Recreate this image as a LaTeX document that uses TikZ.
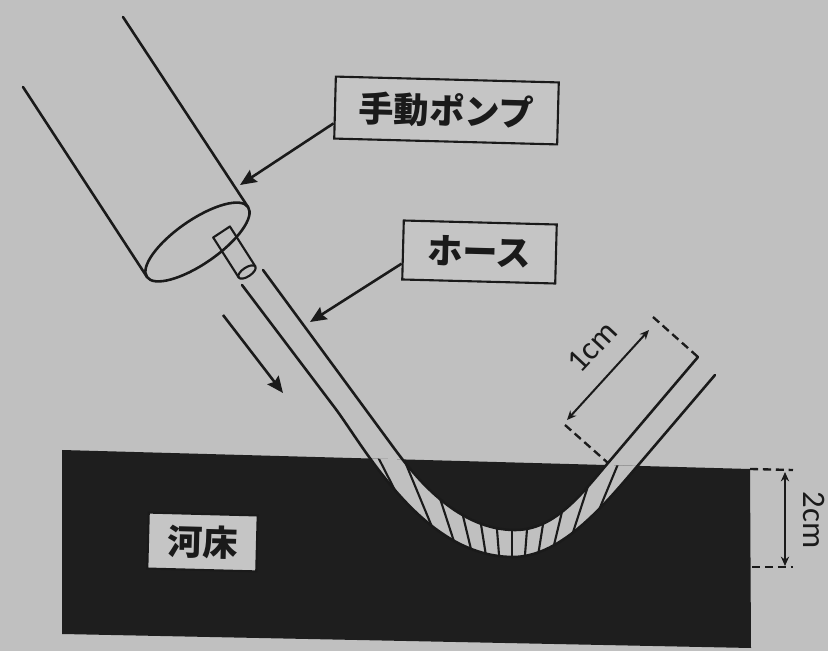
\documentclass[tikz,border=0pt]{standalone}
\usepackage{fontspec}
\newfontfamily\jpfont{Noto Sans CJK JP}
\newfontfamily\dimfont{Carlito}
\usetikzlibrary{arrows.meta}
\definecolor{paper}{RGB}{192,192,192}
\definecolor{ink}{RGB}{26,26,26}
\definecolor{bedcol}{RGB}{30,30,30}
\definecolor{tagfill}{RGB}{197,197,197}
\tikzset{
  outline/.style={draw=ink, line width=2.2pt, line cap=round, line join=round},
  thinoutline/.style={draw=ink, line width=1.8pt, line cap=round, line join=round},
  tag/.style={draw=ink, line width=1.8pt, fill=tagfill, rotate=-1.5, inner sep=0pt,
    font=\jpfont\bfseries\fontsize{30}{36}\selectfont, text=ink},
  pointer/.style={draw=ink, line width=2.2pt, -{Stealth[length=14pt,width=12pt,inset=2pt]}},
  dimline/.style={draw=ink, line width=1.7pt,
    {Stealth[length=8pt,width=7pt]}-{Stealth[length=8pt,width=7pt]}},
  extline/.style={draw=ink, line width=2pt, dash pattern=on 7pt off 4pt},
  stripe/.style={draw=ink, line width=1.8pt},
  dimtext/.style={font=\dimfont\fontsize{28}{34}\selectfont, text=ink, inner sep=0pt},
}
\begin{document}
\begin{tikzpicture}[x=0.03cm,y=-0.03cm]
  % page
  \fill[paper] (0,0) rectangle (828,651);
  \useasboundingbox (0,0) rectangle (828,651);

  % river bed block
  \coordinate (bedTL) at (62,450);
  \coordinate (bedTR) at (750,469);
  \coordinate (bedBR) at (751,648);
  \coordinate (bedBL) at (62,634);
  \fill[bedcol] (bedTL) -- (bedTR) -- (bedBR) -- (bedBL) -- cycle;

  % buried part of the hose: light band with radial stripes
  \coordinate (focus) at (512,720);
  \begin{scope}
    \clip (bedTL) -- (bedTR) -- (bedBR) -- (bedBL) -- cycle;
    \fill[paper] (335,408) .. controls (365,448) and (423,557) .. (513,557)
      .. controls (563,557) and (607.5,501) .. (640,463) -- (649.4,452) -- (617.3,452)
      -- (608,463) .. controls (582,493.5) and (555,530) .. (515,530)
      .. controls (460,530) and (418.7,481.7) .. (395,449.5) -- cycle;
    \begin{scope}
      \clip (335,408) .. controls (365,448) and (423,557) .. (513,557)
        .. controls (563,557) and (607.5,501) .. (640,463) -- (649.4,452) -- (617.3,452)
        -- (608,463) .. controls (582,493.5) and (555,530) .. (515,530)
        .. controls (460,530) and (418.7,481.7) .. (395,449.5) -- cycle;
      \foreach \a in {-31.5,-27,...,31.6}
        \draw[stripe] (focus) -- ++({400*sin(\a)},{-400*cos(\a)});
    \end{scope}
  \end{scope}

  % hose walls
  \draw[outline] (263,270) -- (395,449.5) .. controls (418.7,481.7) and (460,530) .. (515,530)
    .. controls (555,530) and (582,493.5) .. (608,463) -- (698,357);
  \draw[outline] (242,285) -- (335,408) .. controls (365,448) and (423,557) .. (513,557)
    .. controls (563,557) and (607.5,501) .. (640,463) -- (715,375);

  % hand pump body
  \coordinate (pumpend) at (197.5,242);
  \draw[outline] (23,87) -- (147,277);
  \draw[outline] (123,17) -- (248,207);
  \draw[outline, rotate around={34.7:(pumpend)}] (pumpend) ellipse [x radius=1.845cm, y radius=0.66cm];

  % nozzle
  \coordinate (nozzleend) at (247,272);
  \draw[thinoutline] (213.2,237.5) -- (229.9,226.5) -- (255.4,266.5);
  \draw[thinoutline] (213.2,237.5) -- (238.7,277.5);
  \draw[thinoutline, rotate around={33.4:(nozzleend)}] (nozzleend) ellipse [x radius=0.3cm, y radius=0.135cm];

  % labels
  \node[tag, minimum width=6.69cm, minimum height=1.86cm] (pumptag) at (446.5,110.5) {手動ポンプ};
  \node[tag, minimum width=4.59cm, minimum height=1.77cm] (hosetag) at (479.5,252) {ホース};
  \node[tag, minimum width=3.27cm, minimum height=1.68cm] (bedtag) at (202.5,542) {河床};

  % pointers
  \coordinate (pumptip) at (240,185);
  \coordinate (hosetip) at (310,322);
  \draw[pointer] (pumptag.188) -- (pumptip);
  \draw[pointer] (hosetag.190) -- (hosetip);

  % flow direction
  \coordinate (flowstart) at (223,315);
  \coordinate (flowend) at (283,393);
  \draw[pointer] (flowstart) -- (flowend);

  % 1 cm dimension along the hose end
  \coordinate (oneA) at (567,420);
  \coordinate (oneB) at (649,330);
  \draw[extline] (653,317) -- (698,357);
  \draw[extline] (565,425) -- (608,463);
  \draw[dimline] (oneA) -- (oneB);
  \node[dimtext, rotate=47] (onelabel) at (592,347) {1cm};

  % 2 cm depth dimension
  \coordinate (twoA) at (785,472);
  \coordinate (twoB) at (785,566);
  \draw[extline] (bedTR) -- (793,470);
  \draw[extline] (752,567) -- (793,567);
  \draw[dimline] (twoA) -- (twoB);
  \node[dimtext, rotate=-90] (twolabel) at (814,520) {2cm};
\end{tikzpicture}
\end{document}
